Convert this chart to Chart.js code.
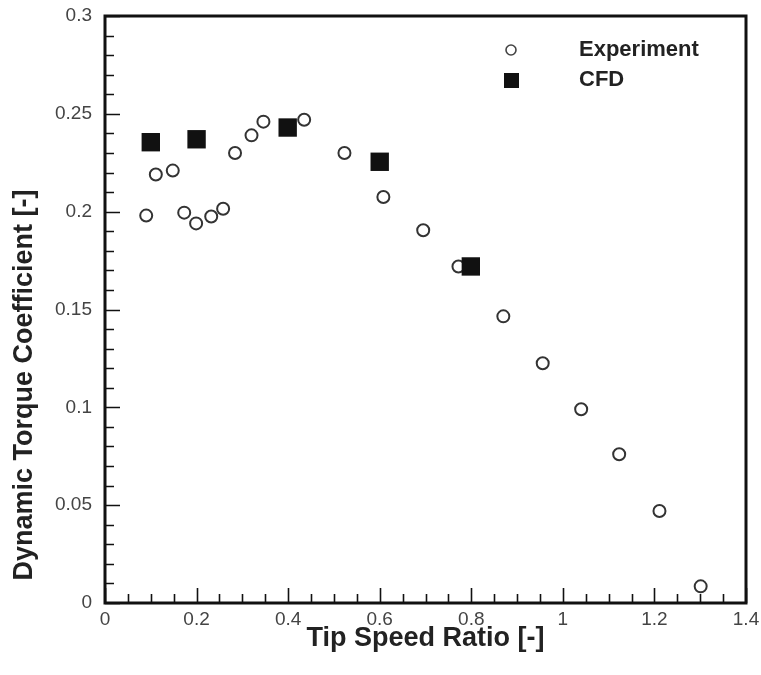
<!DOCTYPE html>
<html><head><meta charset="utf-8">
<script src="https://cdn.jsdelivr.net/npm/chart.js@4.4.0/dist/chart.umd.min.js"></script>
<style>html,body{margin:0;padding:0;background:#fff}#wrap{width:761px;height:675px}</style>
</head><body><div id="wrap"><canvas id="c" width="761" height="675"></canvas></div>
<script>
// Experiment data (tip speed ratio, dynamic torque coefficient)
const expX = [0.090, 0.111, 0.148, 0.173, 0.199, 0.232, 0.258, 0.284, 0.320, 0.346, 0.435, 0.523, 0.608, 0.695, 0.772, 0.870, 0.956, 1.040, 1.123, 1.211, 1.301];
const expY = [0.198, 0.219, 0.221, 0.1995, 0.194, 0.1975, 0.2015, 0.230, 0.239, 0.246, 0.247, 0.230, 0.2075, 0.1905, 0.172, 0.1465, 0.1225, 0.099, 0.076, 0.047, 0.0085];
// CFD data
const cfdX = [0.100, 0.200, 0.399, 0.600, 0.799];
const cfdY = [0.2355, 0.237, 0.243, 0.2255, 0.172];
// Tick labels
const xTickValues = [0, 0.2, 0.4, 0.6, 0.8, 1, 1.2, 1.4];
const xTickLabels = ['0', '0.2', '0.4', '0.6', '0.8', '1', '1.2', '1.4'];
const yTickValues = [0, 0.05, 0.1, 0.15, 0.2, 0.25, 0.3];
const yTickLabels = ['0', '0.05', '0.1', '0.15', '0.2', '0.25', '0.3'];
const seriesNames = ['Experiment', 'CFD'];
const xTitle = 'Tip Speed Ratio [-]';
const yTitle = 'Dynamic Torque Coefficient [-]';

const FONT = '"Liberation Sans", Arial, Helvetica, sans-serif';

const framePlugin = {
  id: 'frame',
  afterDatasetsDraw(chart) {
    const {ctx, chartArea: a, scales: {x, y}} = chart;
    ctx.save();
    ctx.strokeStyle = '#111';
    ctx.lineWidth = 1.6;
    ctx.beginPath();
    for (let i = 0; i <= 28; i++) {
      const v = i * 0.05;
      const px = Math.round(x.getPixelForValue(v)) + 0.5;
      const len = (i % 4 === 0) ? 15 : 9;
      ctx.moveTo(px, a.bottom); ctx.lineTo(px, a.bottom - len);
    }
    for (let i = 0; i <= 30; i++) {
      const v = i * 0.01;
      const py = Math.round(y.getPixelForValue(v)) + 0.5;
      const len = (i % 5 === 0) ? 15 : 9;
      ctx.moveTo(a.left, py); ctx.lineTo(a.left + len, py);
    }
    ctx.stroke();
    ctx.lineWidth = 3;
    ctx.strokeRect(a.left, a.top, a.right - a.left, a.bottom - a.top);
    ctx.restore();
  }
};

const annotPlugin = {
  id: 'annot',
  afterDraw(chart) {
    const {ctx} = chart;
    ctx.save();
    ctx.translate(25, 385);
    ctx.rotate(-Math.PI / 2);
    ctx.font = 'bold 27px ' + FONT;
    ctx.fillStyle = '#222';
    ctx.textAlign = 'center';
    ctx.textBaseline = 'middle';
    ctx.fillText(yTitle, 0, 0);
    ctx.restore();
    ctx.save();
    ctx.font = 'bold 22px ' + FONT;
    ctx.fillStyle = '#222';
    ctx.textAlign = 'left';
    ctx.textBaseline = 'middle';
    ctx.fillText(seriesNames[0], 579, 50);
    ctx.fillText(seriesNames[1], 579, 80);
    ctx.strokeStyle = '#444';
    ctx.lineWidth = 1.6;
    ctx.beginPath(); ctx.arc(511, 50, 5, 0, Math.PI * 2); ctx.stroke();
    ctx.fillStyle = '#111';
    ctx.fillRect(504, 73, 15, 15);
    ctx.restore();
  }
};

new Chart(document.getElementById('c'), {
  type: 'scatter',
  data: {
    datasets: [
      {
        label: seriesNames[1],
        data: cfdX.map((v, i) => ({x: v, y: cfdY[i]})),
        pointStyle: 'rect', pointRadius: 13, pointHoverRadius: 13,
        backgroundColor: '#111', borderColor: '#111', borderWidth: 0
      },
      {
        label: seriesNames[0],
        data: expX.map((v, i) => ({x: v, y: expY[i]})),
        pointStyle: 'circle', pointRadius: 6, pointHoverRadius: 6,
        backgroundColor: '#fff', borderColor: '#333', borderWidth: 2
      }
    ]
  },
  options: {
    responsive: false, animation: false, devicePixelRatio: 1,
    layout: {padding: {top: 16, right: 15, left: 0, bottom: 0}},
    plugins: {legend: {display: false}, tooltip: {enabled: false}},
    scales: {
      x: {
        type: 'linear', min: 0, max: 1.4,
        afterBuildTicks: s => { s.ticks = xTickValues.map(v => ({value: v})); },
        afterFit: s => { s.height = 72; s.paddingLeft = 0; s.paddingRight = 0; },
        grid: {display: false, drawTicks: false}, border: {display: false},
        ticks: {autoSkip: false, maxRotation: 0, padding: 5, color: '#444',
          font: {family: FONT, size: 19}, callback: (v, i) => xTickLabels[i]},
        title: {display: true, text: xTitle, color: '#222', padding: {top: 0, bottom: 20},
          font: {family: FONT, size: 27, weight: 'bold'}}
      },
      y: {
        type: 'linear', min: 0, max: 0.3,
        afterBuildTicks: s => { s.ticks = yTickValues.map(v => ({value: v})); },
        afterFit: s => { s.width = 105; s.paddingTop = 0; s.paddingBottom = 0; },
        grid: {display: false, drawTicks: false}, border: {display: false},
        ticks: {autoSkip: false, padding: 13, color: '#444',
          font: {family: FONT, size: 19}, callback: (v, i) => yTickLabels[i]}
      }
    }
  },
  plugins: [framePlugin, annotPlugin]
});
</script></body></html>
